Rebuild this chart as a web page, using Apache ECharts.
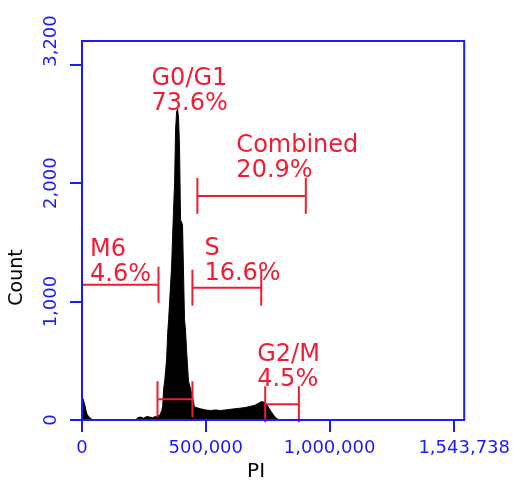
<!DOCTYPE html>
<html>
<head>
<meta charset="utf-8">
<script src="https://cdn.jsdelivr.net/npm/echarts@6/dist/echarts.min.js"></script>
<style>
  html, body { margin: 0; padding: 0; background: #fff; }
  #chart { width: 513px; height: 487px; }
</style>
</head>
<body>
<div id="chart"></div>
<script>
// PI histogram (channel value -> event count)
var piValues = [0, 4000, 8000, 12000, 16000, 20000, 28000, 36000, 44000,
  217000, 225000, 237000, 249000, 261000, 273000, 285000, 297000, 305000,
  314000, 318000, 322000, 326000, 330000, 334000, 338000, 342000, 346000,
  350000, 354000, 358000, 362000, 366000, 370000, 374000, 378000, 382000,
  386000, 390000, 394000, 398000, 402000, 406000, 410000, 414000, 418000,
  422000, 430000, 438000, 446000, 454000, 462000, 478000, 498000, 519000,
  539000, 559000, 579000, 599000, 619000, 639000, 659000, 679000, 699000,
  712000, 724000, 732000, 740000, 752000, 764000, 776000, 788000, 800000]
var counts = [90, 180, 170, 120, 80, 50, 25, 10, 0,
  0, 20, 25, 15, 30, 25, 20, 30, 25,
  40, 60, 80, 120, 270, 330, 420, 520, 730,
  850, 1000, 1150, 1300, 1550, 1790, 2000, 2450, 2600,
  2625, 2550, 2300, 1690, 1680, 1650, 1250, 850, 760,
  600, 330, 320, 200, 110, 100, 95, 85, 80,
  85, 80, 85, 90, 95, 100, 105, 115, 125,
  140, 155, 165, 150, 110, 70, 35, 10, 0]

// gates (markers)
var gateNames = ['M6', 'S', 'Combined', 'G0/G1', 'G2/M']
var gatePercents = ['4.6%', '16.6%', '20.9%', '73.6%', '4.5%']
var gateStart = [0, 446000, 466000, 305000, 740000]
var gateEnd = [309000, 724000, 904000, 446000, 876000]
var gateLevel = [1142, 1117, 1892, 175, 133]

// axis ticks / labels
var xTicks = [0, 500000, 1000000, 1500000]
var xLabels = [0, 500000, 1000000, 1543738]
var yTicks = [0, 1000, 2000, 3000]
var yLabels = [0, 1000, 2000, 3200]

// label offsets in px from gate left end (layout only)
var labelShift = [[8, -47], [12, -51], [39, -63], [-6, -333], [-8, -62]]

var BLUE = '#1a1aff'
var RED = '#f01c32'
var FONT = '"DejaVu Sans"'

var chart = echarts.init(document.getElementById('chart'))

var histData = piValues.map(function (v, i) { return [v, counts[i]] })
var gateData = gateNames.map(function (n, i) {
  return [gateStart[i], gateEnd[i], gateLevel[i]]
})

var option = {
  animation: false,
  grid: {
    left: 81, right: 48, top: 41, bottom: 62,
    show: true, borderColor: BLUE, borderWidth: 2
  },
  xAxis: {
    type: 'value',
    min: 0,
    max: 1543738,
    z: 5,
    name: 'PI',
    nameLocation: 'middle',
    nameGap: 42,
    nameTextStyle: { color: '#000', fontSize: 20, fontFamily: FONT, padding: [0, 34, 0, 0] },
    axisLine: { show: true, lineStyle: { color: BLUE, width: 2 } },
    axisTick: { show: true, length: 12, customValues: xTicks, lineStyle: { color: BLUE, width: 2 } },
    axisLabel: {
      customValues: xLabels,
      color: BLUE, fontSize: 18, fontFamily: FONT, margin: 19,
      formatter: function (v) { return echarts.format.addCommas(v) }
    },
    splitLine: { show: false }
  },
  yAxis: {
    type: 'value',
    min: 0,
    max: 3200,
    z: 5,
    name: 'Count',
    nameLocation: 'middle',
    nameRotate: 90,
    nameGap: 55,
    nameTextStyle: { color: '#000', fontSize: 19, fontFamily: FONT, padding: [0, 94, 0, 0] },
    axisLine: { show: true, lineStyle: { color: BLUE, width: 2 } },
    axisTick: { show: true, length: 12, customValues: yTicks, lineStyle: { color: BLUE, width: 2 } },
    axisLabel: {
      customValues: yLabels,
      rotate: 90,
      color: BLUE, fontSize: 18, fontFamily: FONT, margin: 22,
      formatter: function (v) { return echarts.format.addCommas(v) }
    },
    splitLine: { show: false }
  },
  series: [
    {
      type: 'line',
      data: histData,
      symbol: 'none',
      lineStyle: { color: '#000', width: 1 },
      areaStyle: { color: '#000', opacity: 1 },
      z: 2
    },
    {
      type: 'custom',
      data: gateData,
      z: 3,
      renderItem: function (params, api) {
        var i = params.dataIndex
        var p1 = api.coord([api.value(0), api.value(2)])
        var p2 = api.coord([api.value(1), api.value(2)])
        var h = 18
        var st = { stroke: RED, lineWidth: 2 }
        return {
          type: 'group',
          children: [
            { type: 'line', shape: { x1: p1[0], y1: p1[1], x2: p2[0], y2: p2[1] }, style: st },
            { type: 'line', shape: { x1: p1[0], y1: p1[1] - h, x2: p1[0], y2: p1[1] + h }, style: st },
            { type: 'line', shape: { x1: p2[0], y1: p2[1] - h, x2: p2[0], y2: p2[1] + h }, style: st },
            {
              type: 'text',
              x: p1[0] + labelShift[i][0],
              y: p1[1] + labelShift[i][1],
              style: {
                text: gateNames[i] + '\n' + gatePercents[i],
                fill: RED,
                font: '24px ' + FONT,
                lineHeight: 25,
                align: 'left',
                verticalAlign: 'top'
              }
            }
          ]
        }
      }
    }
  ]
}

chart.setOption(option)
</script>
</body>
</html>
